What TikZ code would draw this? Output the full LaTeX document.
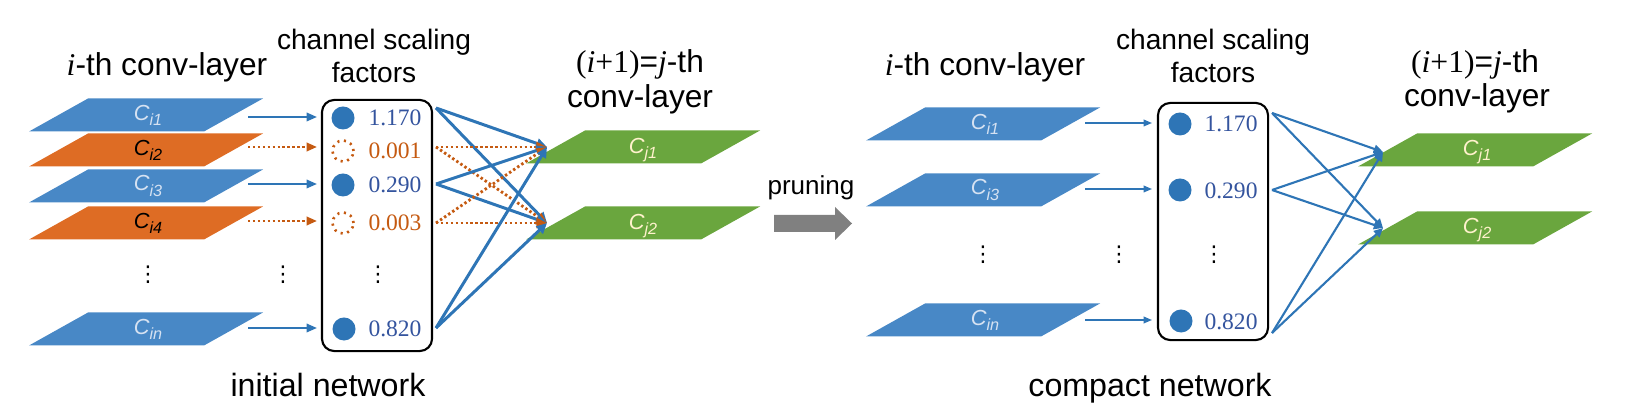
\documentclass[tikz,border=0pt]{standalone}
\usepackage{fontspec}
\setmainfont{Liberation Sans}
\newfontfamily\tms{Liberation Serif}
\newfontfamily\djv{DejaVu Sans}
\usetikzlibrary{arrows.meta}
\definecolor{layblue}{RGB}{72,136,198}
\definecolor{layorange}{RGB}{222,108,36}
\definecolor{laygreen}{RGB}{106,166,62}
\definecolor{arrblue}{RGB}{46,117,182}
\definecolor{arrorange}{RGB}{197,90,17}
\definecolor{valblue}{RGB}{52,84,158}
\definecolor{labblue}{RGB}{214,226,242}
\definecolor{labgreen}{RGB}{255,242,204}
\definecolor{prgray}{RGB}{128,128,128}
\newcommand{\chanlab}[1]{\textit{C}\raisebox{-0.45ex}{\fontsize{4.6}{5}\selectfont\textit{#1}}}
\tikzset{
  plane/.style={insert path={+(-117,16.5) -- +(58,16.5) -- +(117,-16.5) -- +(-58,-16.5) -- cycle}},
  clab/.style={font=\fontsize{6.2}{7}\selectfont, inner sep=0pt},
  head/.style={font=\fontsize{9}{10}\selectfont, anchor=base, inner sep=0pt},
  subhead/.style={font=\fontsize{8}{9}\selectfont, anchor=base, inner sep=0pt},
  sbox/.style={draw, rounded corners=3.5pt, line width=0.6pt, minimum width=1.1cm, inner sep=0pt},
  fcirc/.style={circle, fill=arrblue, minimum size=0.23cm, inner sep=0pt},
  ocirc/.style={circle, draw=arrorange, line width=0.75pt, dash pattern=on 0.6pt off 1.3pt, minimum size=0.21cm, inner sep=0pt},
  val/.style={font=\tms\fontsize{6.7}{7}\selectfont, text=valblue, inner sep=0pt},
  oval/.style={val, text=arrorange},
  vd/.style={font=\djv\fontsize{6.2}{7}\selectfont, inner sep=0pt},
  conn/.style={draw=arrblue, line width=0.65pt, -{Triangle[length=3pt,width=2.4pt]}},
  pconn/.style={draw=arrorange, line width=0.7pt, dash pattern=on 0.7pt off 0.7pt, -{Triangle[length=3pt,width=2.4pt]}},
  bconn/.style={conn, line width=0.85pt, -{Triangle[length=3pt,width=2.8pt]}},
  pbconn/.style={pconn, line width=0.8pt, -{Triangle[length=3pt,width=2.8pt]}},
  thin conn/.style={conn, line width=0.45pt, -{Triangle[length=2.4pt,width=1.9pt]}},
  mid conn/.style={conn, line width=0.6pt, -{Triangle[length=2.6pt,width=2.4pt]}}
}
\begin{document}
\begin{tikzpicture}[x=0.01cm, y=-0.01cm]
\useasboundingbox (0,0) rectangle (1628,410);

% initial network
\node[head] (lhead) at (167,76) {{\tms\itshape i}-th conv-layer};
\node[subhead] (lsc1) at (374,50) {channel scaling};
\node[subhead] (lsc2) at (374,83) {factors};
\node[head] (ljhead1) at (640,73) {{\tms(\textit{i}+1)}={\tms\itshape j}-th};
\node[head] (ljhead2) at (640,108) {conv-layer};
\node[head, font=\fontsize{9.15}{10}\selectfont] (lnet) at (328,397) {initial network};

\foreach \y/\fc/\tc/\s in {115/layblue/labblue/1,150/layorange/black/2,186/layblue/labblue/3,223/layorange/black/4,329/layblue/labblue/n}{
  \fill[\fc] (146,\y) [plane];
  \node[clab, text=\tc] (ci\s) at (148,\y) {\chanlab{i\s}};
}
\foreach \y/\s in {147/1,223/2}{
  \fill[laygreen] (643,\y) [plane];
  \node[clab, text=labgreen] (cj\s) at (643,\y+3) {\chanlab{j\s}};
}

\node[sbox, minimum height=2.51cm] (lbox) at (377,225.5) {};
\node[fcirc] (f1) at (343,118) {};
\node[ocirc] (f2) at (343,151) {};
\node[fcirc] (f3) at (343,185) {};
\node[ocirc] (f4) at (343,223) {};
\node[fcirc] (f5) at (344,329) {};
\node[val] (v1) at (395,118) {1.170};
\node[oval] (v2) at (395,151) {0.001};
\node[val] (v3) at (395,185) {0.290};
\node[oval] (v4) at (395,223) {0.003};
\node[val] (v5) at (395,329) {0.820};

\node[vd] (ld1) at (148,275) {⋮};
\node[vd] (ld2) at (283,275) {⋮};
\node[vd] (ld3) at (378,275) {⋮};

\foreach \y/\s [count=\k] in {117/conn,147/pconn,184/conn,221/pconn,328/conn}{
  \coordinate (a\k) at (248,\y);
  \draw[\s, shorten >=1.1pt] (a\k) -- (a\k -| lbox.west);
}
\coordinate (t1) at (547,147);
\coordinate (t2) at (547,223);
\foreach \y/\s [count=\k] in {108/bconn,147/pbconn,184/bconn,223/pbconn,328/bconn}{
  \coordinate (o\k) at (436,\y);
  \draw[\s] (o\k) -- (t1);
  \draw[\s] (o\k) -- (t2);
}

% pruning
\node[font=\fontsize{7.4}{8}\selectfont, anchor=base, inner sep=0pt] (prune) at (811,195) {pruning};
\fill[prgray] (774,215) -- (835,215) -- (835,207) -- (852,223.5) -- (835,240) -- (835,232) -- (774,232) -- cycle;

% compact network
\node[head] (rhead) at (985,76) {{\tms\itshape i}-th conv-layer};
\node[subhead] (rsc1) at (1213,50) {channel scaling};
\node[subhead] (rsc2) at (1213,83) {factors};
\node[head] (rjhead1) at (1475,73) {{\tms(\textit{i}+1)}={\tms\itshape j}-th};
\node[head] (rjhead2) at (1477,107) {conv-layer};
\node[head, font=\fontsize{9.15}{10}\selectfont] (rnet) at (1150,397) {compact network};

\foreach \y/\s in {124/1,190/3,320/n}{
  \fill[layblue] (983,\y) [plane];
  \node[clab, text=labblue] (ri\s) at (985,\y) {\chanlab{i\s}};
}
\foreach \y/\s in {150/1,228/2}{
  \fill[laygreen] (1475,\y) [plane];
  \node[clab, text=labgreen] (rj\s) at (1477,\y+2) {\chanlab{j\s}};
}

\node[sbox, minimum height=2.37cm] (rbox) at (1213,221.5) {};
\node[fcirc] (g1) at (1180,124) {};
\node[fcirc] (g2) at (1180,190) {};
\node[fcirc] (g3) at (1181,321) {};
\node[val] (w1) at (1231,124) {1.170};
\node[val] (w2) at (1231,191) {0.290};
\node[val] (w3) at (1231,322) {0.820};

\node[vd] (rd1) at (983,255) {⋮};
\node[vd] (rd2) at (1119,255) {⋮};
\node[vd] (rd3) at (1214,255) {⋮};

\foreach \y [count=\k] in {123,189,320}{
  \coordinate (b\k) at (1085,\y);
  \draw[thin conn, shorten >=1.4pt] (b\k) -- (b\k -| rbox.west);
}
\coordinate (u1) at (1383,152);
\coordinate (u2) at (1383,228);
\foreach \y [count=\k] in {113,190,333}{
  \coordinate (p\k) at (1272,\y);
  \draw[mid conn] (p\k) -- (u1);
  \draw[mid conn] (p\k) -- (u2);
}
\end{tikzpicture}
\end{document}
